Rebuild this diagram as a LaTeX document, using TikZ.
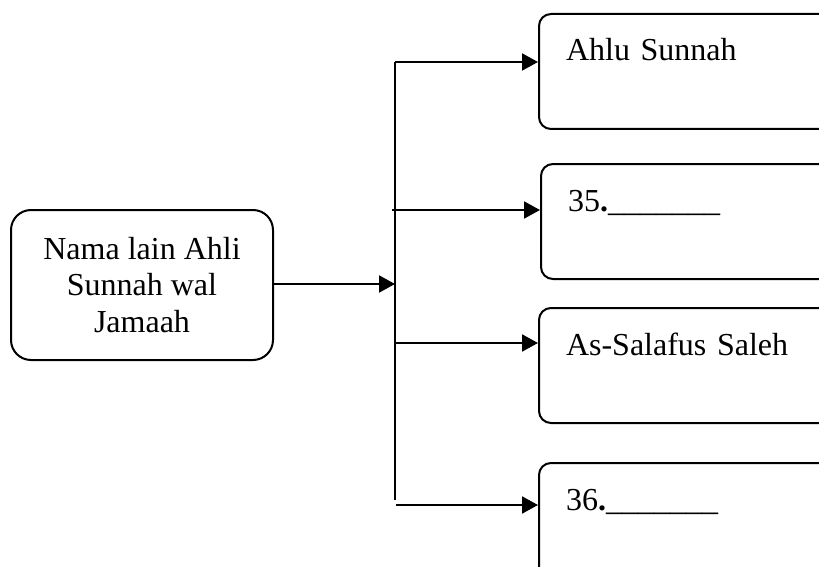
\documentclass[tikz,border=0pt]{standalone}
\usepackage{fontspec}
\setmainfont{Liberation Serif}
\usepackage{tikz}
\usetikzlibrary{arrows.meta}
\usetikzlibrary{positioning}

\begin{document}
\begin{tikzpicture}[x=0.5pt,y=-0.5pt,
	font=\fontsize{16}{18.3}\selectfont,
	line width=1pt,
	srcbox/.style={draw, rounded corners=10pt, minimum width=131pt, minimum height=75pt, align=center, inner sep=0pt},
	namebox/.style={draw, rounded corners=6pt, anchor=north west, align=left, text width=125pt, inner xsep=13.5pt, inner ysep=0pt, text height=23.5pt, text depth=34pt},
	arr/.style={-{Triangle[length=8pt,width=8.5pt]}}]

	\useasboundingbox (0,0) rectangle (819,567);

	\node[srcbox] (src) at (142,285) {Nama lain Ahli\\Sunnah wal\\Jamaah};

	\node[namebox] (b1) at (538,13) {Ahlu Sunnah};
	\node[namebox] (b2) at (540,163) {35\textbf{.}\_\_\_\_\_\_\_};
	\node[namebox] (b3) at (538,307) {As-Salafus Saleh};
	\node[namebox] (b4) at (538,462) {36\textbf{.}\_\_\_\_\_\_\_};

	% trunk
	\coordinate (top) at (395,62);
	\coordinate (bot) at (395,500);
	\coordinate (hub) at (395,284);
	\draw (top) -- (bot);
	\draw[arr] (src.east |- hub) -- (hub);

	% branches
	\coordinate (s1) at (395,62);
	\coordinate (s2) at (392,210);
	\coordinate (s3) at (394,343);
	\coordinate (s4) at (396,505);
	\draw[arr] (s1) -- (s1 -| b1.west);
	\draw[arr] (s2) -- (s2 -| b2.west);
	\draw[arr] (s3) -- (s3 -| b3.west);
	\draw[arr] (s4) -- (s4 -| b4.west);
\end{tikzpicture}
\end{document}
